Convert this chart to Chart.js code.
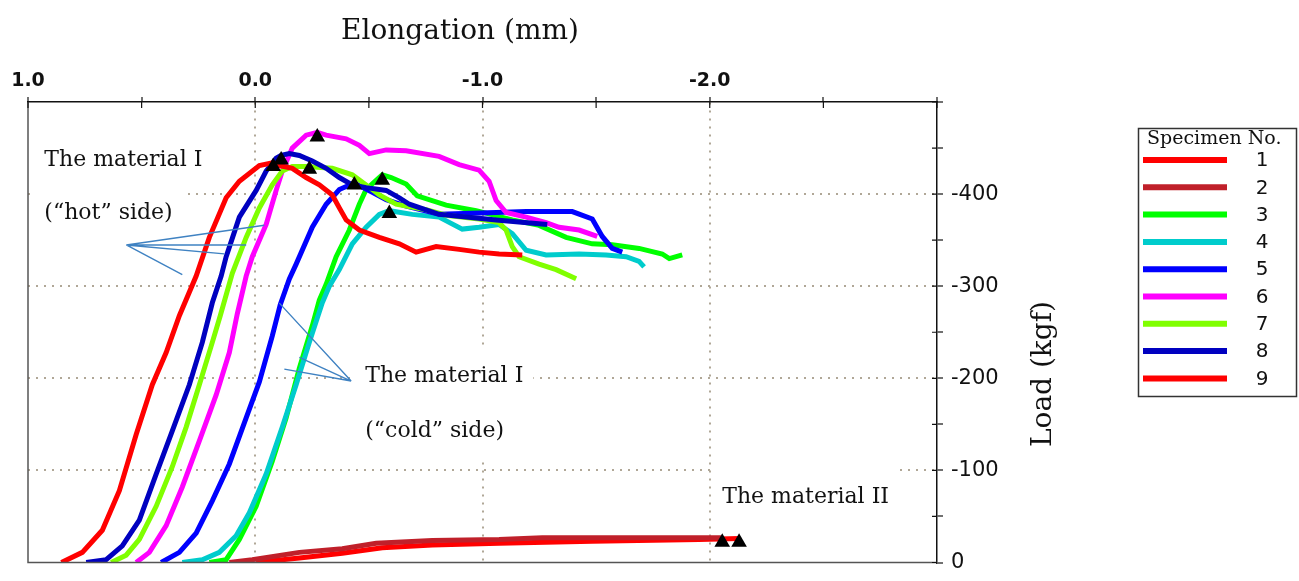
<!DOCTYPE html>
<html>
<head>
<meta charset="utf-8">
<title>Load - elongation curves</title>
<script src="https://cdn.jsdelivr.net/npm/chart.js@4.4.1/dist/chart.umd.min.js"></script>
<style>
  html, body { margin: 0; padding: 0; background: #fff; }
  #wrap { width: 1299px; height: 581px; }
</style>
</head>
<body>
<div id="wrap"><canvas id="loadChart" width="1299" height="581"></canvas></div>
<script>
// elongation (mm) and load (kgf) readings, one pair of arrays per specimen
const elong1 = [-0.004, -0.194, -0.383, -0.559, -0.779, -1.073, -1.483, -1.953, -2.129];
const load1  = [0, -5, -10, -16, -19, -21, -23, -25, -26];

const elong2 = [0.114, 0.013, -0.194, -0.383, -0.532, -0.779, -1.073, -1.263, -1.514, -2.050];
const load2  = [0, -3, -11, -15, -21, -24, -25, -27, -27, -27];

const elong3 = [0.202, 0.128, 0.070, -0.004, -0.075, -0.136, -0.194, -0.251, -0.282, -0.312, -0.356, -0.414, -0.458, -0.488, -0.532, -0.559, -0.598, -0.664, -0.713, -0.840, -0.972, -1.131, -1.249, -1.368, -1.483, -1.571, -1.689, -1.791, -1.822, -1.879];
const load3  = [0, -3, -25, -61, -110, -157, -211, -257, -285, -302, -332, -361, -389, -405, -415, -421, -418, -411, -398, -388, -382, -372, -366, -353, -346, -345, -341, -335, -330, -334];

const elong4 = [0.321, 0.233, 0.158, 0.084, 0.026, -0.048, -0.119, -0.180, -0.238, -0.295, -0.326, -0.370, -0.427, -0.488, -0.546, -0.590, -0.691, -0.809, -0.911, -0.985, -1.073, -1.131, -1.192, -1.280, -1.425, -1.544, -1.632, -1.689, -1.711];
const load4  = [0, -3, -11, -29, -54, -96, -147, -193, -239, -282, -300, -318, -346, -364, -378, -382, -378, -375, -362, -364, -367, -357, -339, -334, -335, -334, -332, -327, -321];

const elong5 = [0.414, 0.334, 0.260, 0.189, 0.114, 0.040, -0.018, -0.075, -0.110, -0.150, -0.180, -0.251, -0.312, -0.370, -0.436, -0.515, -0.576, -0.664, -0.809, -1.060, -1.192, -1.395, -1.483, -1.527, -1.571, -1.615];
const load5  = [0, -11, -32, -67, -107, -157, -196, -246, -280, -308, -324, -364, -389, -405, -412, -402, -394, -387, -378, -380, -381, -381, -373, -354, -341, -337];

const elong6 = [0.524, 0.466, 0.392, 0.321, 0.246, 0.172, 0.114, 0.079, 0.040, 0.013, -0.048, -0.092, -0.119, -0.163, -0.224, -0.273, -0.312, -0.400, -0.458, -0.502, -0.576, -0.664, -0.809, -0.897, -0.985, -1.029, -1.060, -1.104, -1.192, -1.280, -1.337, -1.425, -1.505];
const load6  = [0, -11, -40, -82, -132, -182, -228, -270, -311, -332, -367, -404, -425, -450, -464, -467, -464, -460, -453, -444, -448, -447, -441, -432, -426, -414, -393, -380, -375, -369, -364, -361, -354];

const elong7 = [0.634, 0.568, 0.510, 0.436, 0.365, 0.304, 0.246, 0.189, 0.154, 0.101, 0.040, -0.018, -0.075, -0.119, -0.163, -0.224, -0.339, -0.427, -0.488, -0.546, -0.620, -0.752, -0.840, -0.985, -1.073, -1.104, -1.131, -1.161, -1.249, -1.324, -1.412];
const load7  = [0, -8, -25, -61, -104, -147, -193, -239, -268, -314, -353, -385, -410, -425, -430, -430, -428, -421, -410, -399, -389, -383, -377, -373, -369, -361, -343, -332, -324, -318, -308];

const elong8 = [0.744, 0.656, 0.585, 0.510, 0.436, 0.365, 0.290, 0.233, 0.189, 0.150, 0.128, 0.070, -0.004, -0.048, -0.092, -0.114, -0.150, -0.194, -0.251, -0.312, -0.370, -0.427, -0.488, -0.576, -0.634, -0.678, -0.809, -1.060, -1.285];
const load8  = [0, -3, -18, -46, -96, -143, -193, -239, -282, -311, -332, -375, -404, -425, -439, -442, -444, -442, -436, -428, -418, -410, -407, -404, -396, -389, -378, -372, -367];

const elong9 = [0.853, 0.761, 0.673, 0.598, 0.524, 0.453, 0.392, 0.334, 0.260, 0.202, 0.128, 0.070, -0.018, -0.075, -0.106, -0.163, -0.224, -0.282, -0.339, -0.370, -0.400, -0.458, -0.546, -0.634, -0.708, -0.796, -0.897, -0.985, -1.073, -1.175];
const load9  = [0, -11, -35, -78, -139, -193, -228, -268, -311, -353, -396, -414, -431, -434, -431, -428, -418, -410, -399, -385, -372, -361, -353, -346, -337, -343, -340, -337, -335, -334];

// maximum load marker of each specimen (1..9)
const peakElong = [-2.129, -2.055, -0.559, -0.590, -0.436, -0.273, -0.238, -0.114, -0.079];
const peakLoad  = [-22, -22, -415, -379, -410, -462, -427, -437, -430];

const specimens = ['1', '2', '3', '4', '5', '6', '7', '8', '9'];
const specimenColors = ['#ff0000', '#c0202a', '#00ff00', '#00cccc', '#0000ff', '#ff00ff', '#80ff00', '#0000c0', '#ff0000'];

// labelled tick values
const xLabelValues = [1, 0, -1, -2];
const yLabelValues = [0, -100, -200, -300, -400];

// notes written on the plot, in axis units (left end of the text baseline)
const notes = [
  { text: 'The material I', x: 0.928, y: -430 },
  { text: '(\u201chot\u201d side)', x: 0.928, y: -373 },
  { text: 'The material I', x: -0.484, y: -196 },
  { text: '(\u201ccold\u201d side)', x: -0.484, y: -136 },
  { text: 'The material II', x: -2.055, y: -65 }
];
// pointer lines from the notes to the curves
const hotFrom = [0.5675, -344.8];
const hotTo = [[-0.040, -366.2], [0.040, -344.8], [0.136, -335.1], [0.321, -312.6]];
const coldFrom = [-0.422, -197];
const coldTo = [[-0.106, -281.6], [-0.194, -222.7], [-0.128, -209.9]];

const series = [
  [elong1, load1], [elong2, load2], [elong3, load3], [elong4, load4], [elong5, load5],
  [elong6, load6], [elong7, load7], [elong8, load8], [elong9, load9]
];

const toPoints = (xs, ys) => xs.map((v, i) => ({ x: v, y: ys[i] }));

const datasets = specimens.map((name, i) => ({
  label: name,
  data: toPoints(series[i][0], series[i][1]),
  showLine: true,
  borderColor: specimenColors[i],
  backgroundColor: specimenColors[i],
  borderWidth: 5,
  pointRadius: 0,
  tension: 0,
  order: 10 - i // later specimens drawn on top
}));

datasets.push({
  label: 'peaks',
  data: toPoints(peakElong, peakLoad),
  pointStyle: 'triangle',
  pointRadius: 9,
  backgroundColor: '#000',
  borderColor: '#000',
  borderWidth: 0,
  order: 0
});

const gridDots = '#b0a797';
const serif = '"DejaVu Serif", serif';
const sans = '"DejaVu Sans", sans-serif';

const decorations = {
  id: 'decorations',
  beforeDatasetsDraw(chart) {
    const { ctx, scales: { x, y } } = chart;
    ctx.save();
    ctx.font = '22px ' + serif;
    // white backing so the grid does not run through the notes
    notes.forEach(n => {
      const px = x.getPixelForValue(n.x);
      const py = y.getPixelForValue(n.y);
      const w = ctx.measureText(n.text).width;
      ctx.fillStyle = '#fff';
      ctx.fillRect(px - 10, py - 34, w + 20, 56);
    });
    ctx.fillStyle = '#111';
    ctx.textAlign = 'left';
    ctx.textBaseline = 'alphabetic';
    notes.forEach(n => ctx.fillText(n.text, x.getPixelForValue(n.x), y.getPixelForValue(n.y)));
    ctx.restore();
  },
  afterDatasetsDraw(chart) {
    const { ctx, chartArea: a, scales: { x, y } } = chart;
    ctx.save();
    // left and bottom frame
    ctx.strokeStyle = '#555';
    ctx.lineWidth = 1.5;
    ctx.beginPath();
    ctx.moveTo(a.left, a.top);
    ctx.lineTo(a.left, a.bottom);
    ctx.lineTo(a.right, a.bottom);
    ctx.stroke();
    // tick marks reaching inside the plot
    ctx.strokeStyle = '#111';
    ctx.lineWidth = 1.2;
    ctx.beginPath();
    x.ticks.forEach(t => {
      const px = x.getPixelForValue(t.value);
      ctx.moveTo(px, a.top);
      ctx.lineTo(px, a.top + 6);
    });
    y.ticks.forEach(t => {
      const py = y.getPixelForValue(t.value);
      ctx.moveTo(a.right, py);
      ctx.lineTo(a.right - 5, py);
    });
    ctx.stroke();
    // pointer lines
    ctx.strokeStyle = '#3f82c2';
    ctx.lineWidth = 1.4;
    ctx.beginPath();
    [[hotFrom, hotTo], [coldFrom, coldTo]].forEach(([from, tos]) => {
      const fx = x.getPixelForValue(from[0]);
      const fy = y.getPixelForValue(from[1]);
      tos.forEach(p => {
        ctx.moveTo(fx, fy);
        ctx.lineTo(x.getPixelForValue(p[0]), y.getPixelForValue(p[1]));
      });
    });
    ctx.stroke();
    ctx.restore();
  },
  afterDraw(chart) {
    const { ctx } = chart;
    ctx.save();
    ctx.fillStyle = '#111';
    // axis titles
    ctx.font = '28px ' + serif;
    ctx.textAlign = 'center';
    ctx.textBaseline = 'alphabetic';
    ctx.fillText('Elongation (mm)', 460, 39);
    ctx.translate(1051, 374);
    ctx.rotate(-Math.PI / 2);
    ctx.fillText('Load (kgf)', 0, 0);
    ctx.restore();

    // legend box
    ctx.save();
    ctx.strokeStyle = '#333';
    ctx.lineWidth = 1.5;
    ctx.strokeRect(1138.5, 128.5, 158, 268);
    ctx.fillStyle = '#111';
    ctx.font = '19px ' + serif;
    ctx.textAlign = 'left';
    ctx.fillText('Specimen No.', 1147, 144);
    ctx.font = '20px ' + sans;
    ctx.textAlign = 'center';
    ctx.textBaseline = 'middle';
    chart.data.datasets.filter(d => d.label !== 'peaks').forEach((d, i) => {
      const ly = 160 + i * 27.3;
      ctx.strokeStyle = d.borderColor;
      ctx.lineWidth = 6;
      ctx.beginPath();
      ctx.moveTo(1143, ly);
      ctx.lineTo(1227, ly);
      ctx.stroke();
      ctx.fillText(d.label, 1262, ly + 1);
    });
    ctx.restore();
  }
};

new Chart(document.getElementById('loadChart'), {
  type: 'scatter',
  data: { datasets },
  options: {
    responsive: false,
    animation: false,
    devicePixelRatio: 1,
    layout: { padding: { left: 28, right: 0, top: 0, bottom: 11 } },
    plugins: {
      legend: { display: false },
      tooltip: { enabled: false }
    },
    scales: {
      x: {
        type: 'linear',
        position: 'top',
        reverse: true,
        min: -3,
        max: 1,
        afterFit: s => { s.height = 102; },
        border: { color: '#111', width: 1.5, dash: [2, 6] },
        grid: {
          color: c => (c.tick && [0, -1, -2].includes(c.tick.value)) ? gridDots : 'rgba(0,0,0,0)',
          lineWidth: 2,
          tickColor: '#111',
          tickLength: 5,
          tickWidth: 1.2
        },
        ticks: {
          stepSize: 0.5,
          autoSkip: false,
          maxRotation: 0,
          padding: 5,
          color: '#111',
          font: { family: sans, size: 19, weight: 'bold' },
          callback: v => xLabelValues.includes(v) ? v.toFixed(1) : ''
        }
      },
      y: {
        type: 'linear',
        position: 'right',
        reverse: true,
        min: -500,
        max: 0,
        afterFit: s => { s.width = 362; },
        border: { color: '#111', width: 1.5, dash: [2, 6] },
        grid: {
          color: c => (c.tick && c.tick.value < 0 && yLabelValues.includes(c.tick.value)) ? gridDots : 'rgba(0,0,0,0)',
          lineWidth: 2,
          tickColor: '#111',
          tickLength: 6,
          tickWidth: 1.2
        },
        ticks: {
          stepSize: 50,
          autoSkip: false,
          padding: 8,
          color: '#111',
          font: { family: sans, size: 21, lineHeight: 1 },
          callback: v => yLabelValues.includes(v) ? String(v) : ''
        }
      }
    }
  },
  plugins: [decorations]
});
</script>
</body>
</html>
